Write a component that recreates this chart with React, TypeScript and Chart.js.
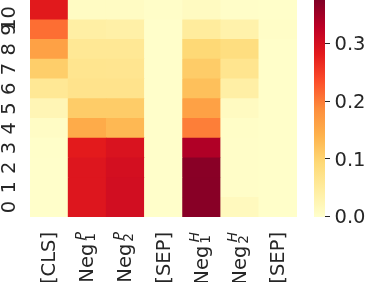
import React, { useEffect, useRef } from 'react';
import { Chart, registerables } from 'chart.js';

Chart.register(...registerables);

// Rows (y axis, bottom to top) and columns (x axis)
const rowLabels = ['0', '1', '2', '3', '4', '5', '6', '7', '8', '9', '10'];
const colBase = ['[CLS]', 'Neg', 'Neg', '[SEP]', 'Neg', 'Neg', '[SEP]'];
const colSup = ['', 'P', 'P', '', 'H', 'H', ''];
const colSub = ['', '1', '2', '', '1', '2', ''];

// Values per column, index = row (0 at bottom .. 10 at top)
const clsVals = [0.002, 0.002, 0.002, 0.003, 0.008, 0.025, 0.06, 0.108, 0.163, 0.212, 0.285];
const neg1PVals = [0.29, 0.29, 0.29, 0.283, 0.15, 0.11, 0.07, 0.066, 0.06, 0.043, 0.01];
const neg2PVals = [0.305, 0.305, 0.303, 0.295, 0.134, 0.11, 0.07, 0.065, 0.06, 0.04, 0.01];
const sep1Vals = [0.002, 0.002, 0.002, 0.002, 0.002, 0.002, 0.002, 0.002, 0.002, 0.002, 0.004];
const neg1HVals = [0.371, 0.371, 0.37, 0.34, 0.2, 0.163, 0.125, 0.11, 0.094, 0.05, 0.012];
const neg2HVals = [0.015, 0.004, 0.004, 0.004, 0.005, 0.012, 0.042, 0.066, 0.083, 0.035, 0.004];
const sep2Vals = [0.003, 0.003, 0.003, 0.003, 0.003, 0.003, 0.003, 0.003, 0.003, 0.005, 0.003];

const columnValues = [clsVals, neg1PVals, neg2PVals, sep1Vals, neg1HVals, neg2HVals, sep2Vals];

const vMin = 0;
const vMax = 0.377;
const cbarTicks = [0, 0.1, 0.2, 0.3];
const cbarTickLabels = ['0.0', '0.1', '0.2', '0.3'];

const ylOrRd = ['#ffffcc', '#ffeda0', '#fed976', '#feb24c', '#fd8d3c', '#fc4e2a', '#e31a1c', '#bd0026', '#800026'];

const FONT = '"DejaVu Sans", "Liberation Sans", sans-serif';
const TEXT_COLOR = '#262626';
const MAIN_SIZE = 19.5;
const SCRIPT_SIZE = 13.6;

function hexToRgb(h: string): number[] {
  return [parseInt(h.slice(1, 3), 16), parseInt(h.slice(3, 5), 16), parseInt(h.slice(5, 7), 16)];
}

function colorFor(v: number): string {
  let t = (v - vMin) / (vMax - vMin);
  t = Math.max(0, Math.min(1, t));
  const n = ylOrRd.length - 1;
  const pos = t * n;
  const i = Math.min(Math.floor(pos), n - 1);
  const f = pos - i;
  const a = hexToRgb(ylOrRd[i]);
  const b = hexToRgb(ylOrRd[i + 1]);
  const c = a.map((av, k) => Math.round(av + (b[k] - av) * f));
  return `rgb(${c[0]},${c[1]},${c[2]})`;
}

const labelPlugin = {
  id: 'heatLabels',
  afterDraw(chart: any) {
    const ctx = chart.ctx as CanvasRenderingContext2D;
    const xs = chart.scales.x;
    const ys = chart.scales.y;
    const cb = chart.scales.cb;
    const area = chart.chartArea;
    ctx.save();
    ctx.fillStyle = TEXT_COLOR;

    // y tick labels (rotated)
    ctx.font = `${MAIN_SIZE}px ${FONT}`;
    rowLabels.forEach((lab, r) => {
      const y = ys.getPixelForValue(r);
      const w = ctx.measureText(lab).width;
      const yc = Math.max(y, w / 2 + 6);
      ctx.save();
      ctx.translate(area.left - 15, yc);
      ctx.rotate(-Math.PI / 2);
      ctx.textAlign = 'center';
      ctx.textBaseline = 'alphabetic';
      ctx.fillText(lab, 0, 0);
      ctx.restore();
    });

    // x tick labels (rotated, with sup/sub scripts)
    colBase.forEach((base, c) => {
      const x = xs.getPixelForValue(c);
      ctx.font = `${MAIN_SIZE}px ${FONT}`;
      const wBase = ctx.measureText(base).width;
      ctx.font = `italic ${SCRIPT_SIZE}px ${FONT}`;
      const wSup = colSup[c] ? ctx.measureText(colSup[c]).width : 0;
      ctx.font = `${SCRIPT_SIZE}px ${FONT}`;
      const wSub = colSub[c] ? ctx.measureText(colSub[c]).width : 0;
      const subGap = 2;
      const supGap = 3.5;
      const scriptW = colSup[c] || colSub[c] ? Math.max(wSup + supGap, wSub + subGap) : 0;
      const total = wBase + scriptW;
      const anchorY = area.bottom + 15;
      ctx.save();
      ctx.translate(x + 6, anchorY + total);
      ctx.rotate(-Math.PI / 2);
      ctx.textAlign = 'left';
      ctx.textBaseline = 'alphabetic';
      ctx.font = `${MAIN_SIZE}px ${FONT}`;
      ctx.fillText(base, 0, 0);
      if (colSup[c]) {
        ctx.font = `italic ${SCRIPT_SIZE}px ${FONT}`;
        ctx.fillText(colSup[c], wBase + supGap, -8.5);
      }
      if (colSub[c]) {
        ctx.font = `${SCRIPT_SIZE}px ${FONT}`;
        ctx.fillText(colSub[c], wBase + subGap, 2);
      }
      ctx.restore();
    });

    // colorbar
    const top = cb.getPixelForValue(vMax);
    const bottom = cb.getPixelForValue(vMin);
    const cbLeft = area.right + 17;
    const cbW = 11;
    const grad = ctx.createLinearGradient(0, bottom, 0, top);
    ylOrRd.forEach((col, i) => grad.addColorStop(i / (ylOrRd.length - 1), col));
    ctx.fillStyle = grad;
    ctx.fillRect(cbLeft, top, cbW, bottom - top);

    ctx.strokeStyle = TEXT_COLOR;
    ctx.lineWidth = 1;
    ctx.fillStyle = TEXT_COLOR;
    ctx.font = `${MAIN_SIZE}px ${FONT}`;
    ctx.textAlign = 'left';
    ctx.textBaseline = 'middle';
    cbarTicks.forEach((t, i) => {
      const y = cb.getPixelForValue(t);
      const yy = Math.min(Math.round(y) - 0.5, bottom - 0.5);
      ctx.beginPath();
      ctx.moveTo(cbLeft + cbW, yy);
      ctx.lineTo(cbLeft + cbW + 5, yy);
      ctx.stroke();
      ctx.fillText(cbarTickLabels[i], cbLeft + cbW + 9.5, y + 1);
    });
    ctx.restore();
  },
};

export default function App() {
  const canvasRef = useRef<HTMLCanvasElement | null>(null);

  useEffect(() => {
    document.body.style.margin = '0';
    const canvas = canvasRef.current;
    if (!canvas) return;
    const datasets = rowLabels.map((_, r) => ({
      label: rowLabels[r],
      data: columnValues.map(() => [r - 0.5, r + 0.5]),
      backgroundColor: columnValues.map((col) => colorFor(col[r])),
      borderWidth: 0,
      barPercentage: 1,
      categoryPercentage: 1,
      grouped: false,
    }));
    const chart = new Chart(canvas, {
      type: 'bar',
      data: {
        labels: colBase.map((b, i) => b + (colSup[i] ? '^' + colSup[i] : '') + (colSub[i] ? '_' + colSub[i] : '')),
        datasets: datasets as any,
      },
      options: {
        animation: false,
        responsive: true,
        maintainAspectRatio: false,
        layout: { padding: { left: 30, right: 70, top: 0, bottom: 65 } },
        plugins: { legend: { display: false }, tooltip: { enabled: false } },
        scales: {
          x: { type: 'category', display: false, offset: true, grid: { display: false } },
          y: { type: 'linear', display: false, min: -0.5, max: 10.5 },
          cb: { type: 'linear', display: false, position: 'right', min: vMin, max: vMax },
        },
      },
      plugins: [labelPlugin],
    });
    return () => chart.destroy();
  }, []);

  return (
    <div style={{ position: 'absolute', left: 0, top: 0, width: 367, height: 282 }}>
      <canvas ref={canvasRef} />
    </div>
  );
}
